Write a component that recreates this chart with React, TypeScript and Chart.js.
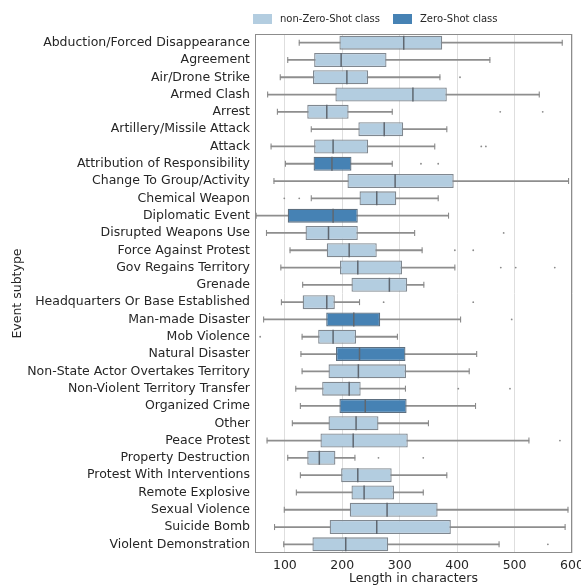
import React, { useEffect, useRef } from "react";
import { Chart, registerables } from "chart.js";

Chart.register(...registerables);

const categories = [
  "Abduction/Forced Disappearance", "Agreement", "Air/Drone Strike", "Armed Clash", "Arrest",
  "Artillery/Missile Attack", "Attack", "Attribution of Responsibility", "Change To Group/Activity",
  "Chemical Weapon", "Diplomatic Event", "Disrupted Weapons Use", "Force Against Protest",
  "Gov Regains Territory", "Grenade", "Headquarters Or Base Established", "Man-made Disaster",
  "Mob Violence", "Natural Disaster", "Non-State Actor Overtakes Territory",
  "Non-Violent Territory Transfer", "Organized Crime", "Other", "Peace Protest",
  "Property Destruction", "Protest With Interventions", "Remote Explosive", "Sexual Violence",
  "Suicide Bomb", "Violent Demonstration",
];

const zeroShot = [
  false, false, false, false, false, false, false, true, false, false, true, false, false,
  false, false, false, true, false, true, false, false, true, false, false, false, false,
  false, false, false, false,
];

const whiskerMin = [125, 105, 92, 70, 87, 146, 76, 101, 81, 146, 50, 68, 109, 93, 131, 94, 63, 130, 128, 130, 119, 127, 113, 69, 105, 127, 120, 99, 82, 98];
const q1 = [195, 151, 149, 188, 139, 228, 151, 150, 209, 230, 105, 136, 173, 196, 216, 131, 172, 158, 189, 176, 165, 195, 176, 162, 139, 198, 216, 213, 178, 148];
const median = [307, 198, 208, 323, 173, 273, 184, 182, 292, 260, 184, 176, 212, 227, 282, 173, 220, 184, 230, 228, 212, 240, 224, 219, 160, 227, 238, 278, 260, 206];
const q3 = [374, 277, 245, 382, 211, 306, 245, 216, 394, 294, 227, 227, 260, 304, 313, 187, 266, 224, 310, 311, 232, 312, 263, 314, 188, 286, 290, 366, 389, 280];
const whiskerMax = [583, 457, 370, 543, 287, 382, 361, 287, 594, 367, 385, 326, 339, 396, 342, 230, 406, 296, 434, 421, 310, 432, 350, 525, 222, 382, 341, 593, 588, 473];

const outlierCats = [
  "Air/Drone Strike", "Arrest", "Arrest", "Attack", "Attack",
  "Attribution of Responsibility", "Attribution of Responsibility",
  "Chemical Weapon", "Chemical Weapon", "Disrupted Weapons Use",
  "Force Against Protest", "Force Against Protest",
  "Gov Regains Territory", "Gov Regains Territory", "Gov Regains Territory",
  "Headquarters Or Base Established", "Headquarters Or Base Established",
  "Man-made Disaster", "Mob Violence",
  "Non-Violent Territory Transfer", "Non-Violent Territory Transfer",
  "Peace Protest", "Property Destruction", "Property Destruction", "Violent Demonstration",
];
const outlierValues = [405, 475, 549, 442, 450, 337, 367, 99, 125, 481, 396, 428, 476, 502, 570, 272, 428, 495, 57, 402, 492, 579, 263, 341, 558];

const xTicks = [100, 200, 300, 400, 500, 600];
const legendLabels = ["non-Zero-Shot class", "Zero-Shot class"];

const LIGHT = "#b3cde0";
const DARK = "#4682b4";
const EDGE = "#808890";
const TEXT = "#262626";
const FONT = "'DejaVu Sans', sans-serif";

export default function App() {
  const ref = useRef<HTMLCanvasElement | null>(null);

  useEffect(() => {
    if (!ref.current) return;

    const framePlugin = {
      id: "frameAndLegend",
      afterDraw(chart: any) {
        const { ctx, chartArea } = chart;
        ctx.save();
        ctx.strokeStyle = "#8c8c8c";
        ctx.lineWidth = 1;
        ctx.strokeRect(
          Math.round(chartArea.left) + 0.5,
          Math.round(chartArea.top) + 0.5,
          Math.round(chartArea.right - chartArea.left) - 1,
          Math.round(chartArea.bottom - chartArea.top) - 1
        );
        const items = [
          { x: 253, color: LIGHT, text: legendLabels[0] },
          { x: 393, color: DARK, text: legendLabels[1] },
        ];
        ctx.font = `10px ${FONT}`;
        ctx.textBaseline = "middle";
        ctx.textAlign = "left";
        for (const it of items) {
          ctx.fillStyle = it.color;
          ctx.fillRect(it.x, 14, 19, 10);
          ctx.fillStyle = TEXT;
          ctx.fillText(it.text, it.x + 27, 19.5);
        }
        ctx.restore();
      },
    };

    const boxColors = zeroShot.map((z) => (z ? DARK : LIGHT));
    const boxEdges = zeroShot.map((z) => (z ? "#5d6f80" : EDGE));

    const chart = new Chart(ref.current, {
      type: "bar",
      data: {
        labels: categories,
        datasets: [
          {
            type: "scatter",
            label: "median",
            data: categories.map((c, i) => ({ x: median[i], y: c })),
            pointStyle: "line",
            rotation: 90,
            pointRadius: 7,
            borderColor: "#5f6770",
            borderWidth: 1.5,
            xAxisID: "x",
            yAxisID: "y",
            order: 0,
          } as any,
          {
            type: "bar",
            label: "box",
            data: categories.map((c, i) => [q1[i], q3[i]]),
            backgroundColor: boxColors,
            borderColor: boxEdges,
            borderWidth: 1.3,
            borderSkipped: false,
            grouped: false,
            barPercentage: 0.81,
            categoryPercentage: 1,
            xAxisID: "x",
            yAxisID: "y",
            order: 1,
          } as any,
          {
            type: "scatter",
            label: "caps",
            data: [
              ...categories.map((c, i) => ({ x: whiskerMin[i], y: c })),
              ...categories.map((c, i) => ({ x: whiskerMax[i], y: c })),
            ],
            pointStyle: "line",
            rotation: 90,
            pointRadius: 3,
            borderColor: "#8a8a8a",
            borderWidth: 1.1,
            xAxisID: "x",
            yAxisID: "y",
            order: 2,
          } as any,
          {
            type: "bar",
            label: "whisker",
            data: categories.map((c, i) => [whiskerMin[i], whiskerMax[i]]),
            backgroundColor: "#8e8e8e",
            borderWidth: 0,
            grouped: false,
            barThickness: 1.1,
            xAxisID: "x",
            yAxisID: "y",
            order: 3,
          } as any,
          {
            type: "scatter",
            label: "outliers",
            data: outlierCats.map((c, i) => ({ x: outlierValues[i], y: c })),
            pointStyle: "circle",
            pointRadius: 0.9,
            backgroundColor: "#8a8a8a",
            borderWidth: 0,
            xAxisID: "x",
            yAxisID: "y",
            order: 4,
          } as any,
        ],
      },
      options: {
        indexAxis: "y",
        animation: false,
        responsive: false,
        maintainAspectRatio: false,
        layout: { padding: { top: 34, right: 9, left: 0, bottom: 0 } },
        plugins: {
          legend: { display: false },
          tooltip: { enabled: false },
        },
        scales: {
          x: {
            type: "linear",
            position: "bottom",
            min: 48,
            max: 600,
            afterBuildTicks: (scale: any) => {
              scale.ticks = xTicks.map((v) => ({ value: v }));
            },
            afterFit: (scale: any) => {
              scale.height = 33;
              scale.paddingLeft = 0;
              scale.paddingRight = 0;
            },
            grid: { display: true, color: "#dedede", lineWidth: 1, drawTicks: false },
            border: { display: false },
            ticks: {
              padding: 5,
              color: TEXT,
              font: { family: FONT, size: 12.5 },
              maxRotation: 0,
            },
            title: {
              display: true,
              text: "Length in characters",
              color: TEXT,
              font: { family: FONT, size: 12.5 },
              padding: { top: 0, bottom: 0 },
            },
          },
          y: {
            type: "category",
            labels: categories,
            offset: true,
            afterFit: (scale: any) => {
              scale.width = 255;
            },
            grid: { display: false, drawTicks: false },
            border: { display: false },
            ticks: {
              padding: 5,
              color: TEXT,
              font: { family: FONT, size: 12.5 },
              autoSkip: false,
            },
            title: {
              display: true,
              text: "Event subtype",
              color: TEXT,
              font: { family: FONT, size: 12.5 },
              padding: { top: 10, bottom: 0 },
            },
          },
        },
      } as any,
      plugins: [framePlugin],
    });

    return () => chart.destroy();
  }, []);

  return (
    <div style={{ position: "absolute", left: 0, top: 0, width: 581, height: 586 }}>
      <canvas ref={ref} width={581} height={586} style={{ width: 581, height: 586 }} />
    </div>
  );
}
